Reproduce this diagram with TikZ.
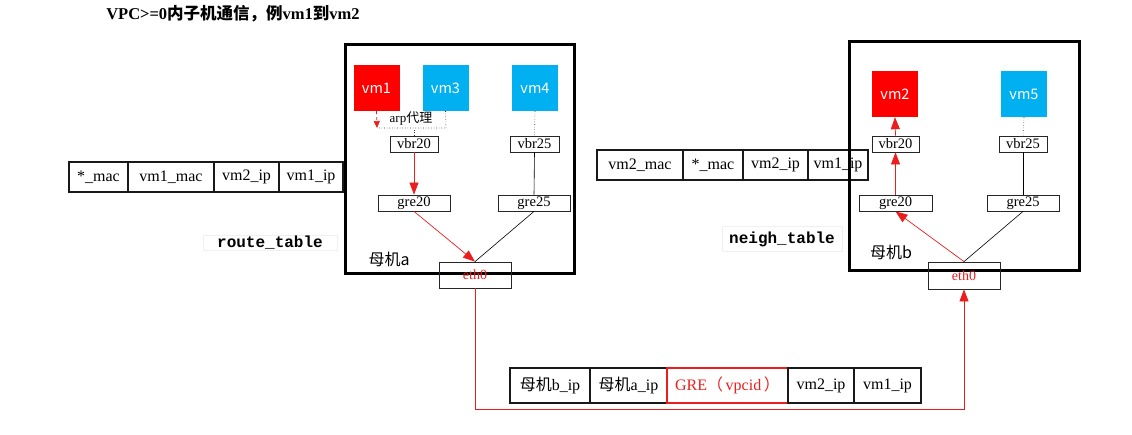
\documentclass[tikz,border=0pt]{standalone}
\usepackage{fontspec}
\setmainfont{Liberation Serif}
\newfontfamily\cjk{Noto Sans CJK SC}
\newfontfamily\vmfont{Noto Sans CJK SC}
\newfontfamily\monof{Liberation Mono}
\usetikzlibrary{arrows.meta}
\definecolor{vmred}{RGB}{255,0,0}
\definecolor{vmblue}{RGB}{0,176,240}
\definecolor{linered}{RGB}{235,30,30}
\tikzset{
  cell/.style={draw=black!90, line width=1.6pt, minimum height=30pt, inner sep=0pt, font=\fontsize{16}{16}\selectfont, fill=white},
  small/.style={draw=black!85, line width=0.8pt, minimum height=16pt, inner sep=0pt, font=\fontsize{14.5}{14.5}\selectfont},
  ethbox/.style={draw=black!85, line width=0.8pt, minimum width=72pt, inner sep=0pt, text=linered, font=\fontsize{14}{14}\selectfont},
  vm/.style={minimum width=46pt, minimum height=46pt, inner sep=0pt, text=white, font=\vmfont\fontsize{14.5}{14.5}\selectfont},
  host/.style={draw=black, line width=3pt},
  redarr/.style={draw=linered, line width=0.7pt, -{Triangle[length=12pt,width=9pt]}},
  blk/.style={draw=black, line width=0.6pt},
  dots/.style={draw=black!80, line width=0.6pt, dotted},
  lbl/.style={inner sep=0pt},
}
\begin{document}
\begin{tikzpicture}[x=1pt,y=-1pt]
\useasboundingbox (0,0) rectangle (1132,434);
\fill[white] (0,0) rectangle (1132,434);
% title
\node[lbl, font=\bfseries\fontsize{16.5}{16.5}\selectfont] (title) at (233,14) {VPC>=0{\cjk\bfseries 内子机通信，例}vm1{\cjk\bfseries 到}vm2};

% left table
\node[cell, minimum width=59pt] (la) at (98.5,177) {*\_mac};
\node[cell, minimum width=86pt] (lb) at (171,177) {vm1\_mac};
\node[cell, minimum width=65pt] (lc) at (246.5,177) {vm2\_ip};
\node[cell, minimum width=64pt] (ld) at (311,177) {vm1\_ip};
\node[draw=black!6, inner sep=0pt, minimum width=134pt, minimum height=15pt, font=\monof\bfseries\fontsize{16}{16}\selectfont] (rt) at (270,243) {route\_table};

% right table
\node[cell, minimum width=86pt] (ra) at (640,165) {vm2\_mac};
\node[cell, minimum width=60pt] (rb) at (713,165) {*\_mac};
\node[cell, minimum width=65pt] (rc) at (775.5,165) {vm2\_ip};
\node[cell, minimum width=60pt] (rd) at (838,165) {vm1\_ip};
\node[draw=black!6, inner sep=0pt, minimum width=120pt, minimum height=25pt, font=\monof\bfseries\fontsize{16}{16}\selectfont] (nt) at (782,239) {neigh\_table};

% host a
\draw[host] (345,44) rectangle (574,273);
\node[vm, fill=vmred] (vm1) at (376.5,88) {vm1};
\node[vm, fill=vmblue] (vm3) at (445.5,88) {vm3};
\node[vm, fill=vmblue] (vm4) at (535,88) {vm4};
\node[small, minimum width=48pt] (vbr20a) at (414,144) {vbr20};
\node[small, minimum width=49pt] (vbr25a) at (534.5,144) {vbr25};
\node[small, minimum width=72pt] (gre20a) at (414,203) {gre20};
\node[small, minimum width=72pt] (gre25a) at (534,203) {gre25};
\node[ethbox, minimum height=26pt] (eth0a) at (475,275) {eth0};
\node[lbl, font=\cjk\fontsize{16}{16}\selectfont] (ma) at (389,259) {母机a};
\node[lbl, font=\fontsize{13}{13}\selectfont] (arp) at (411,118) {arp{\cjk 代理}};
\coordinate (arpL) at (377,128);
\coordinate (arpR) at (446,128);
\coordinate (arpM) at (414,128);
\draw[dots] (vm3.south) -- (arpR) -- (arpL);
\draw[dots] (vbr20a.north) -- (arpM);
\draw[linered, line width=0.7pt, dashed, -{Triangle[length=7pt,width=6pt]}] (vm1.south) -- (arpL);
\draw[dots] (vm4.south) -- (vbr25a.north);
\draw[blk] (vbr25a.south) -- (gre25a.north);
\draw[redarr] (vbr20a.south) -- (gre20a.north);
\draw[redarr] (gre20a.south) -- (eth0a.north);
\draw[blk] (gre25a.south) -- (eth0a.north);

% host b
\draw[host] (849,41) rectangle (1079,270);
\node[vm, fill=vmred] (vm2) at (895,94) {vm2};
\node[vm, fill=vmblue] (vm5) at (1024,94) {vm5};
\node[small, minimum width=47pt] (vbr20b) at (895.5,144) {vbr20};
\node[small, minimum width=48pt] (vbr25b) at (1023,144) {vbr25};
\node[small, minimum width=73pt] (gre20b) at (895.5,203) {gre20};
\node[small, minimum width=72pt] (gre25b) at (1023,203) {gre25};
\node[ethbox, minimum height=27pt] (eth0b) at (964,275.5) {eth0};
\node[lbl, font=\cjk\fontsize{16}{16}\selectfont] (mb) at (891,252) {母机b};
\draw[dots] (vm5.south) -- (vbr25b.north);
\draw[blk] (vbr25b.south) -- (gre25b.north);
\draw[redarr] (vbr20b.north) -- (vm2.south);
\draw[redarr] (gre20b.north) -- (vbr20b.south);
\draw[redarr] (eth0b.north) -- (gre20b.south);
\draw[blk] (eth0b.north) -- (gre25b.south);

% bottom packet
\node[cell, minimum width=80pt, minimum height=35pt] (pa) at (550,385.5) {{\cjk 母机}b\_ip};
\node[cell, minimum width=77pt, minimum height=35pt] (pb) at (628.5,385.5) {{\cjk 母机}a\_ip};
\node[cell, draw=linered, text=linered, minimum width=121pt, minimum height=35pt] (pc) at (727.5,385.5) {GRE{\cjk （}\,vpcid\,{\cjk ）}};
\node[cell, minimum width=66pt, minimum height=35pt] (pd) at (821,385.5) {vm2\_ip};
\node[cell, minimum width=67pt, minimum height=35pt] (pe) at (887.5,385.5) {vm1\_ip};

\coordinate (botL) at (475,409);
\draw[redarr] (eth0a.south) -- (botL) -| (eth0b.south);
\end{tikzpicture}
\end{document}
